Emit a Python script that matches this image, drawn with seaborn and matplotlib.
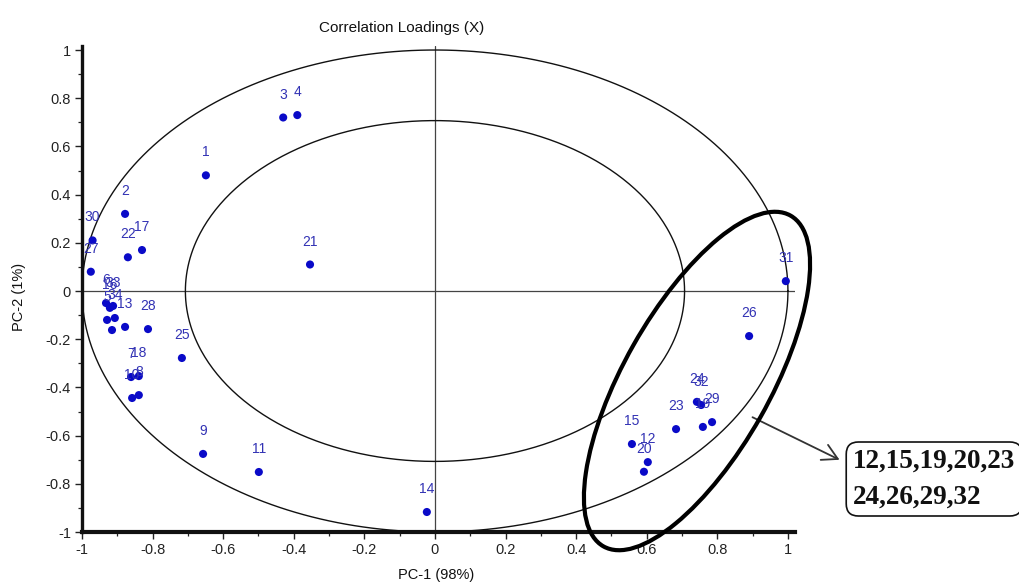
import numpy as np
import pandas as pd
import matplotlib
matplotlib.use("Agg")
import matplotlib.pyplot as plt
import seaborn as sns
from matplotlib.patches import Ellipse
from matplotlib.transforms import IdentityTransform
from matplotlib.ticker import MultipleLocator, FixedLocator, FixedFormatter

# ---- data ----
labels = ["1", "2", "3", "4", "5", "6", "7", "8", "9", "10",
          "11", "12", "13", "14", "15", "16", "17", "18", "19", "20",
          "21", "22", "23", "24", "25", "26", "27", "28", "29", "30",
          "31", "32", "33", "34", ""]
pc1 = [-0.649, -0.878, -0.430, -0.390, -0.929, -0.932, -0.861, -0.839, -0.657, -0.858,
       -0.499, 0.603, -0.878, -0.023, 0.558, -0.921, -0.830, -0.839, 0.759, 0.592,
       -0.354, -0.870, 0.683, 0.742, -0.717, 0.890, -0.975, -0.813, 0.785, -0.970,
       0.994, 0.754, -0.912, -0.907, -0.915]
pc2 = [0.480, 0.320, 0.720, 0.730, -0.120, -0.050, -0.357, -0.432, -0.676, -0.444,
       -0.751, -0.710, -0.149, -0.917, -0.635, -0.070, 0.170, -0.353, -0.564, -0.750,
       0.110, 0.140, -0.573, -0.460, -0.278, -0.187, 0.080, -0.158, -0.544, 0.210,
       0.041, -0.473, -0.062, -0.112, -0.162]
tick_values = [-1, -0.8, -0.6, -0.4, -0.2, 0, 0.2, 0.4, 0.6, 0.8, 1]
tick_labels = ["-1", "-0.8", "-0.6", "-0.4", "-0.2", "0", "0.2", "0.4", "0.6", "0.8", "1"]
radii = [1.0, 0.7071]
title = "Correlation Loadings (X)"
xlabel = "PC-1 (98%)"
ylabel = "PC-2 (1%)"
box_text = "12,15,19,20,23\n24,26,29,32"

df = pd.DataFrame({"label": labels, "pc1": pc1, "pc2": pc2})

sns.set_theme(style="ticks")
plt.rcParams["font.family"] = ["Liberation Sans", "DejaVu Sans"]

W, H = 1019, 585
fig = plt.figure(figsize=(W / 100, H / 100), dpi=100)
fig.patch.set_facecolor("white")

x_left_px, x_right_px = 82, 795
y_bot_px, y_top_px = 532, 46.4
ax = fig.add_axes([x_left_px / W, (H - y_bot_px) / H,
                   (x_right_px - x_left_px) / W, (y_bot_px - y_top_px) / H])
ax.set_facecolor("white")
ax.set_xlim(-1, 1.02)
ax.set_ylim(-1, 1.015)

# guide circles (correlation circles)
theta = np.linspace(0, 2 * np.pi, 500)
for r in radii:
    ax.plot(r * np.cos(theta), r * np.sin(theta), color="#111111", lw=1.0, zorder=2)

ax.axhline(0, color="#444444", lw=0.9, zorder=1)
ax.axvline(0, color="#444444", lw=0.9, zorder=1)

sns.scatterplot(data=df, x="pc1", y="pc2", color="#0a0ac8", s=34,
                edgecolor="none", linewidth=0, ax=ax, legend=False, zorder=4)

for lab, x, y in zip(df["label"], df["pc1"], df["pc2"]):
    if lab:
        ax.annotate(lab, (x, y), xytext=(0, 16.5), textcoords="offset points",
                    ha="center", va="center", fontsize=10, color="#3232b4", zorder=5)

# axes styling
for s in ["top", "right"]:
    ax.spines[s].set_visible(False)
ax.spines["left"].set_linewidth(2.4)
ax.spines["bottom"].set_linewidth(3.0)
ax.spines["left"].set_color("#111111")
ax.spines["bottom"].set_color("#111111")
ax.xaxis.set_major_locator(FixedLocator(tick_values))
ax.xaxis.set_major_formatter(FixedFormatter(tick_labels))
ax.yaxis.set_major_locator(FixedLocator(tick_values))
ax.yaxis.set_major_formatter(FixedFormatter(tick_labels))
ax.xaxis.set_minor_locator(MultipleLocator(0.1))
ax.yaxis.set_minor_locator(MultipleLocator(0.1))
ax.tick_params(which="major", direction="out", length=5, width=1.0,
               labelsize=10.5, colors="#222222", pad=3)
ax.tick_params(which="minor", direction="out", length=3, width=0.9, colors="#222222")
ax.set_xlabel("")
ax.set_ylabel("")

fig.text(402 / W, (H - 28) / H, title, ha="center", va="center", fontsize=11, color="#111111")
fig.text(436 / W, (H - 575) / H, xlabel, ha="center", va="center", fontsize=10.5, color="#111111")
fig.text(19 / W, (H - 297) / H, ylabel, ha="center", va="center", rotation=90,
         fontsize=10.5, color="#111111")

# highlight ellipse around the right-hand group (pixel space)
ell = Ellipse((697, H - 381), width=380, height=146, angle=60.5,
              fill=False, ec="black", lw=3.0, transform=IdentityTransform(), zorder=6)
fig.add_artist(ell)

ax.annotate("", xy=(842, H - 461), xycoords="figure pixels",
            xytext=(750, H - 416), textcoords="figure pixels",
            arrowprops=dict(arrowstyle="->,head_length=0.9,head_width=0.5",
                            color="#333333", lw=1.3), annotation_clip=False)

fig.text(853 / W, (H - 479) / H, box_text, ha="left", va="center",
         fontsize=19.5, fontweight="bold", family=["Liberation Serif", "DejaVu Serif"],
         linespacing=1.55, color="#111111",
         bbox=dict(boxstyle="round,pad=0.25,rounding_size=0.45", fc="white",
                   ec="#111111", lw=1.2))

fig.savefig("out.png", dpi=100, facecolor="white")
